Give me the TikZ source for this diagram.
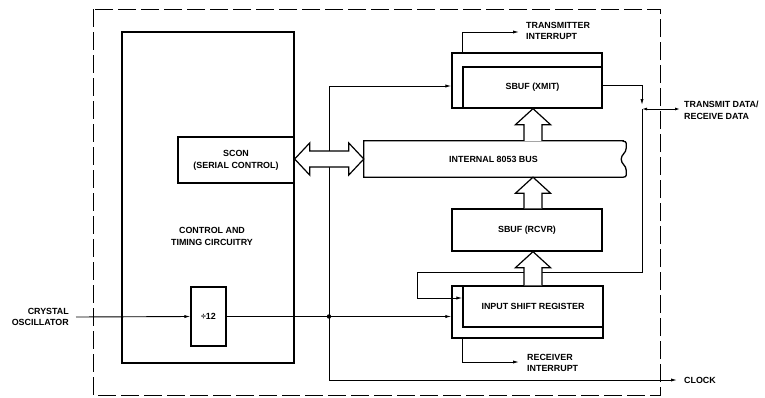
\documentclass[tikz,border=0pt]{standalone}
\usepackage{fontspec}
\setmainfont{Liberation Sans}
\usepackage{tikz}
\usetikzlibrary{arrows.meta, calc}

% hollow bus arrow pointing up: #1 = foot, #2 = tip
\newcommand{\busarrow}[2]{%
  \draw[fat] let \p1=#1, \p2=#2 in
    (\x1-9pt,\y1) -- (\x1-9pt,\y2-16pt) -- (\x1-17.5pt,\y2-16pt) -- (\x1,\y2)
    -- (\x1+17.5pt,\y2-16pt) -- (\x1+9pt,\y2-16pt) -- (\x1+9pt,\y1);}

\begin{document}
\begin{tikzpicture}[x=1pt, y=-1pt,
    box/.style={draw, line width=1.3pt, fill=white, inner sep=0pt, align=center},
    lbl/.style={align=left, inner sep=0pt},
    wire/.style={line width=0.9pt},
    sig/.style={wire, -{Latex[length=6pt,width=3.2pt]}},
    fat/.style={line width=1.2pt, fill=white, line join=miter},
    every node/.append style={font=\bfseries\fontsize{8.9}{11.8}\selectfont}
  ]
  \useasboundingbox (0,0) rectangle (765,397);

  % Chip boundary
  \draw[line width=0.9pt, dash pattern=on 18pt off 5pt] (93,9) rectangle (660,395);

  % Control and timing block
  \node[box, minimum width=172pt, minimum height=331pt] (ctrl) at (208,197.5) {};
  \node[box, minimum width=116pt, minimum height=46pt] (scon) at (236,160)
        {SCON\\(SERIAL CONTROL)};
  \node[box, minimum width=35pt, minimum height=59pt] (div) at (208.5,316.5) {÷12};
  \node[align=center] (ctrltxt) at (212,236.5) {CONTROL AND\\TIMING CIRCUITRY};

  % Serial buffers
  \node[box, minimum width=150pt, minimum height=55pt] (xmit) at (527,80.5) {};
  \node[box, minimum width=139pt, minimum height=41pt] (xmitin) at (532.5,87.5) {SBUF (XMIT)};
  \node[box, minimum width=150pt, minimum height=42pt] (rcvr) at (527,230) {SBUF (RCVR)};
  \node[box, minimum width=151pt, minimum height=52pt] (isr) at (527.5,312) {};
  \node[box, minimum width=140pt, minimum height=41pt] (isrin) at (533,306.5)
        {INPUT SHIFT REGISTER};

  % Internal bus
  \node[minimum width=259pt, minimum height=36pt, inner sep=0pt] (bus) at (493.5,159)
        {INTERNAL 8053 BUS};
  \draw[line width=1.3pt, line join=miter] (bus.north east) -- (bus.north west)
        -- (bus.south west) -- (bus.south east)
        .. controls +(4,0) and +(0,4) .. ++(3,-7)
        .. controls +(0,-5) and +(0,5) .. ++(-5,-11)
        .. controls +(0,-5) and +(0,5) .. ++(5,-11)
        .. controls +(0,-4) and +(4,0) .. ++(-3,-7) -- cycle;

  % Outside labels
  \node[lbl, anchor=west] (tinttxt) at (526,31) {TRANSMITTER\\INTERRUPT};
  \node[lbl, anchor=west] (rinttxt) at (527,363) {RECEIVER\\INTERRUPT};
  \node[lbl, anchor=west] (dtxt) at (684,110) {TRANSMIT DATA/\\RECEIVE DATA};
  \node[lbl, anchor=west] (clktxt) at (684,380) {CLOCK};
  \node[lbl, anchor=east, align=right] (xtal) at (69,317) {CRYSTAL\\OSCILLATOR};

  % Wire corners
  \coordinate (j) at (329,316.5);
  \coordinate (fx) at (533,0);
  \coordinate (tint) at (519,32);
  \coordinate (rint) at (519,362);
  \coordinate (dio) at (642,109);
  \coordinate (dext) at (680,109);
  \coordinate (clk) at (677,380);
  \coordinate (lp) at (417,272);

  % Clock path
  \draw[sig] ([xshift=7pt]xtal.east) -- (div.west);
  \draw[sig] (div.east) -- (div.east -| isr.west);
  \draw[sig] (j) |- ([yshift=-5.5pt]xmit.west);
  \draw[sig] (j) |- (clk);
  \fill (j) circle (2.2pt);

  % Interrupts and serial data
  \draw[sig] (xmitin.north west |- xmit.north) |- (tint);
  \draw[sig] (isrin.south west |- isr.south) |- (rint);
  \draw[sig, shorten >=4pt] ([yshift=-4.5pt]xmit.east) -| (dio);
  \draw[wire, {Latex[length=5pt,width=3pt]}-{Latex[length=5pt,width=3pt]}] (dio) -- (dext);
  \draw[sig] (dio) |- (lp) |- ([yshift=8.5pt]isrin.west);

  % Bus transfers
  \draw[fat] let \p1=(scon.east |- bus.west), \p2=(bus.west) in
    (\p1) -- (\x1+15pt,\y1+16pt) -- (\x1+15pt,\y1+8pt) -- (\x2-15pt,\y1+8pt)
    -- (\x2-15pt,\y1+16pt) -- (\p2) -- (\x2-15pt,\y1-16pt) -- (\x2-15pt,\y1-8pt)
    -- (\x1+15pt,\y1-8pt) -- (\x1+15pt,\y1-16pt) -- cycle;
  \busarrow{(bus.north -| fx)}{(xmit.south -| fx)}
  \busarrow{(rcvr.north -| fx)}{(bus.south -| fx)}
  \busarrow{(isr.north -| fx)}{(rcvr.south -| fx)}
\end{tikzpicture}
\end{document}
